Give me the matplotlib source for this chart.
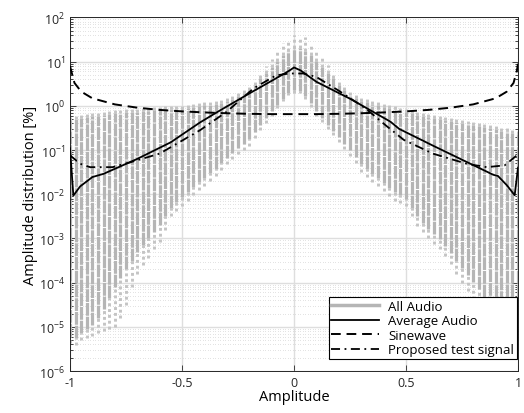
import numpy as np
import matplotlib
matplotlib.use('Agg')
import matplotlib.pyplot as plt

plt.rcParams['font.family'] = ['Open Sans', 'DejaVu Sans']
plt.rcParams['axes.unicode_minus'] = False

# gray "All Audio" columns, log10 of percent per amplitude bin
bin_x = np.linspace(-1, 1, 81)
audio_hi = [-0.25, -0.22, -0.20, -0.18, -0.16, -0.14, -0.12, -0.10, -0.09, -0.08,
            -0.07, -0.06, -0.05, -0.04, -0.03, -0.02, -0.01, 0.00, 0.00, 0.01,
            0.02, 0.03, 0.05, 0.07, 0.09, 0.11, 0.13, 0.15, 0.18, 0.25,
            0.32, 0.38, 0.45, 0.60, 0.75, 0.90, 1.05, 1.25, 1.42, 1.50,
            1.60, 1.55, 1.55, 1.40, 1.25, 1.08, 0.92, 0.75, 0.58, 0.45,
            0.33, 0.26, 0.20, 0.16, 0.12, 0.09, 0.06, 0.03, 0.00, -0.03,
            -0.06, -0.09, -0.12, -0.15, -0.18, -0.20, -0.22, -0.25, -0.27, -0.29,
            -0.31, -0.33, -0.35, -0.38, -0.40, -0.43, -0.45, -0.48, -0.50, -0.53,
            -0.55]
audio_core_hi = [-0.33, -0.30, -0.28, -0.26, -0.24, -0.22, -0.20, -0.18, -0.17, -0.16,
                 -0.15, -0.14, -0.13, -0.12, -0.11, -0.10, -0.09, -0.08, -0.08, -0.07,
                 -0.06, -0.05, -0.03, -0.01, 0.01, 0.03, 0.05, 0.07, 0.10, 0.16,
                 0.22, 0.28, 0.35, 0.48, 0.62, 0.75, 0.88, 1.02, 1.15, 1.25,
                 1.32, 1.30, 1.25, 1.15, 1.02, 0.88, 0.75, 0.62, 0.48, 0.36,
                 0.25, 0.18, 0.12, 0.08, 0.04, 0.01, -0.02, -0.05, -0.08, -0.11,
                 -0.14, -0.17, -0.20, -0.23, -0.26, -0.28, -0.30, -0.33, -0.35, -0.37,
                 -0.39, -0.41, -0.43, -0.46, -0.48, -0.51, -0.53, -0.56, -0.58, -0.61,
                 -0.63]
audio_core_lo = [-5.20, -5.25, -5.15, -5.05, -4.95, -4.80, -4.60, -4.35, -4.10, -3.90,
                 -3.70, -3.50, -3.30, -3.15, -3.00, -2.85, -2.70, -2.50, -2.30, -2.18,
                 -2.06, -1.95, -1.84, -1.73, -1.64, -1.53, -1.42, -1.30, -1.18, -1.06,
                 -0.96, -0.86, -0.76, -0.60, -0.44, -0.28, -0.12, 0.03, 0.16, 0.28,
                 0.35, 0.33, 0.22, 0.06, -0.12, -0.28, -0.43, -0.57, -0.71, -0.86,
                 -1.01, -1.16, -1.32, -1.44, -1.54, -1.64, -1.74, -1.85, -1.95, -2.02,
                 -2.10, -2.30, -2.50, -2.64, -2.78, -2.90, -3.02, -3.16, -3.32, -3.50,
                 -3.66, -3.82, -3.98, -4.14, -4.32, -4.60, -4.95, -5.10, -5.25, -5.25,
                 -5.25]
audio_lo = [-5.36, -5.40, -5.30, -5.25, -5.20, -5.15, -5.10, -5.05, -5.00, -4.80,
            -4.50, -4.10, -3.80, -3.60, -3.45, -3.25, -3.08, -2.80, -2.50, -2.38,
            -2.26, -2.15, -2.02, -1.90, -1.82, -1.70, -1.58, -1.45, -1.32, -1.20,
            -1.10, -1.00, -0.90, -0.72, -0.55, -0.38, -0.22, -0.05, 0.10, 0.25,
            0.30, 0.30, 0.16, -0.02, -0.22, -0.37, -0.52, -0.67, -0.81, -0.97,
            -1.13, -1.30, -1.50, -1.62, -1.72, -1.82, -1.92, -2.05, -2.15, -2.20,
            -2.26, -2.50, -2.72, -2.86, -3.00, -3.12, -3.24, -3.40, -3.58, -3.80,
            -4.00, -4.20, -4.37, -4.55, -4.76, -5.10, -5.44, -5.50, -5.60, -5.55,
            -5.50]

# average audio distribution [%]
avg_x = [-1.0, -0.985, -0.955, -0.9, -0.85, -0.7, -0.55, -0.42, -0.33, -0.2,
         -0.08, -0.02, 0.0, 0.03, 0.1, 0.25, 0.43, 0.47, 0.62, 0.77,
         0.89, 0.91, 0.95, 0.985, 1.0]
avg_y = [0.11, 0.0093, 0.015, 0.0245, 0.029, 0.063, 0.15, 0.42, 0.79, 1.9,
         4.2, 6.3, 7.4, 6.3, 3.5, 1.45, 0.44, 0.3, 0.126, 0.054,
         0.0275, 0.026, 0.016, 0.0095, 0.04]

# sinewave distribution [%]
sine_x = [-1.0, -0.995, -0.98, -0.95, -0.9, -0.8, -0.7, -0.6, -0.5, -0.4,
          -0.3, -0.2, -0.1, 0.0, 0.1, 0.2, 0.3, 0.4, 0.5, 0.6,
          0.7, 0.8, 0.9, 0.95, 0.98, 0.995, 1.0]
sine_y = [8.0, 6.3, 3.3, 2.1, 1.48, 1.08, 0.91, 0.81, 0.75, 0.71,
          0.68, 0.66, 0.65, 0.65, 0.65, 0.66, 0.68, 0.71, 0.75, 0.81,
          0.91, 1.08, 1.48, 2.1, 3.3, 6.3, 9.0]

# proposed test signal distribution [%]
prop_x = [-1.0, -0.955, -0.91, -0.81, -0.73, -0.6, -0.42, -0.3, -0.18, -0.08,
          -0.02, 0.04, 0.1, 0.2, 0.32, 0.41, 0.49, 0.62, 0.77, 0.86,
          0.94, 0.995, 1.0]
prop_y = [0.076, 0.049, 0.041, 0.041, 0.053, 0.083, 0.28, 0.74, 2.5, 4.9,
          5.4, 5.4, 4.5, 2.2, 0.87, 0.36, 0.17, 0.083, 0.049, 0.041,
          0.045, 0.076, 0.09]

fig = plt.figure(figsize=(5.24, 4.14), dpi=100)
ax = fig.add_axes([0.1336, 0.1014, 0.855, 0.854])
ax.set_yscale('log')

hi = 10 ** np.array(audio_hi)
chi = 10 ** np.array(audio_core_hi)
clo = 10 ** np.array(audio_core_lo)
lo = 10 ** np.array(audio_lo)

# sparse tails then dense cores
ax.vlines(bin_x, lo, clo, color='#c4c4c4', lw=2.1, linestyles=[(0, (1.0, 1.0))], zorder=2)
ax.vlines(bin_x, chi, hi, color='#c4c4c4', lw=2.1, linestyles=[(0, (1.0, 1.0))], zorder=2)
ax.vlines(bin_x, clo, chi, color='#b5b5b5', lw=2.3, linestyles=[(0, (4.0, 0.3))], zorder=2)
ax.plot([], [], color='#b5b5b5', lw=2.5, label='All Audio')

ax.plot(avg_x, avg_y, color='black', lw=1.3, label='Average Audio', zorder=4)
ax.plot(sine_x, sine_y, color='black', lw=1.4, linestyle=(0, (5, 3)), label='Sinewave', zorder=4)
ax.plot(prop_x, prop_y, color='black', lw=1.3, linestyle=(0, (5, 2.5, 1, 2.5)),
        label='Proposed test signal', zorder=4)

ax.set_xlim(-1, 1)
ax.set_ylim(1e-6, 1e2)
ax.set_xticks([-1, -0.5, 0, 0.5, 1])
ax.set_xticklabels(['-1', '-0.5', '0', '0.5', '1'])
ax.set_yticks([10.0 ** k for k in range(-6, 3)])
ax.tick_params(which='both', direction='in', top=True, right=True, labelsize=9,
               colors='#262626', width=0.6)
ax.tick_params(which='major', length=4)
ax.tick_params(which='minor', length=2)
ax.tick_params(axis='x', which='minor', bottom=False, top=False)

ax.set_axisbelow(True)
ax.grid(True, which='major', color='#dedede', lw=1.0)
ax.grid(True, which='minor', axis='y', color='#bdbdbd', lw=0.6, linestyle=(0, (0.6, 2.4)))
for s in ax.spines.values():
    s.set_color('#262626')
    s.set_linewidth(0.7)

ax.set_xlabel('Amplitude', fontsize=10.5, labelpad=0)
ax.set_ylabel('Amplitude distribution [%]', fontsize=10.5, labelpad=1)

leg = ax.legend(loc='lower right', bbox_to_anchor=(0.997, 0.034), fontsize=9.5,
                fancybox=False, framealpha=1, edgecolor='black', borderpad=0.2,
                handlelength=3.6, labelspacing=0.12, handletextpad=0.7, borderaxespad=0)
leg.get_frame().set_linewidth(0.8)

fig.savefig('out.png', dpi=100)
